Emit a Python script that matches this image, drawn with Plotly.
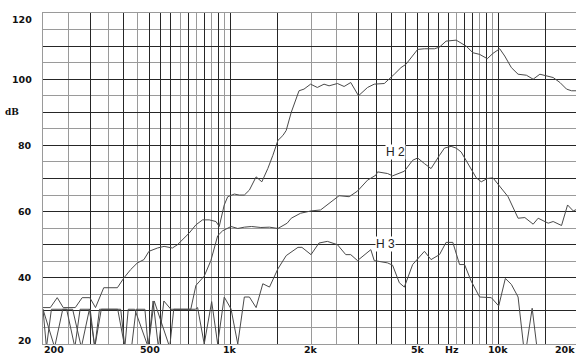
import numpy as np
import plotly.graph_objects as go

# ---- data (frequency in Hz, level in dB) ----
main_freq = [200, 213, 226, 238, 264, 280, 299, 314, 337, 379, 401, 425, 450, 476, 497, 535, 566,
             608, 635, 663, 702, 744, 788, 834, 884, 909, 949, 978, 1035, 1081, 1128, 1178, 1248,
             1311, 1380, 1441, 1505, 1571, 1616, 1688, 1804, 1883, 1993, 2112, 2237, 2336, 2510,
             2658, 2814, 3008, 3251, 3443, 3754, 4092, 4332, 4522, 4790, 5000, 5300, 5778, 6032,
             6384, 6960, 7268, 7586, 8038, 8516, 9094, 9550, 10120, 10566, 11186, 11850, 12728,
             13488, 14288, 15120, 16020, 16980, 17974, 18760, 19590, 20000]
main_db = [31, 31, 34, 31, 31, 34, 34, 31, 37, 37, 40, 42.5, 44.5, 45.5, 48, 49, 49.5,
           49, 50, 51.5, 53.5, 56, 57.5, 57.5, 57, 55.5, 62, 64.5, 65.3, 65, 65, 66.5, 70.5,
           69, 73, 77, 81.5, 83, 84.5, 90, 96.5, 97, 98.5, 97.5, 98.5, 98, 98.7,
           97.8, 99, 95, 97.5, 98.5, 98.7, 101.5, 103.5, 104.5, 107, 109, 109.2, 109.2, 109.7,
           111.5, 111.8, 111, 110, 108, 107.5, 106.2, 107.8, 109.2, 107, 103.5, 101.5, 101.2,
           100, 101.5, 101, 100.5, 99, 97, 96.5, 96.5, 95.5]

h2_freq = [200, 221, 237, 258, 278, 298, 312, 330, 380, 404, 416, 440, 494, 515, 539, 565, 600,
           712, 744, 799, 846, 897, 936, 1006, 1066, 1128, 1200, 1300, 1400, 1505, 1630, 1688,
           1828, 2000, 2172, 2368, 2546, 2776, 2982, 3251, 3492, 3544, 3862, 4032, 4460, 4790,
           5000, 5300, 5610, 6032, 6296, 6666, 6960, 7268, 7586, 8038, 8274, 8638, 9094, 9550,
           10120, 10872, 11850, 12560, 13488, 14080, 15350, 16020, 17214, 18130, 19040, 20000]
h2_db = [30.5, 19, 30.5, 30.5, 19, 30.5, 19, 30.5, 30.5, 19, 30.5, 30.5, 19, 33, 19, 33, 30.5,
         30.5, 37.7, 40.5, 45.2, 52.7, 54.2, 55.5, 54.9, 55.3, 55.5, 55.2, 55.3, 54.9, 56.5, 58,
         59.5, 60.2, 60.5, 62.8, 64.8, 64.5, 66.2, 69.5, 71, 72, 71.5, 70.8, 72.2, 75.5,
         76.2, 74.5, 73, 77, 79.2, 79.7, 79.2, 78, 75.5, 72, 70.2, 69, 70, 70.2,
         67.5, 64.5, 58, 58.2, 56.2, 58, 56.5, 57, 55.8, 62, 60.2, 61]

h3_freq = [200, 206, 215, 245, 263, 275, 300, 312, 325, 390, 404, 428, 445, 480, 494, 520, 594,
           615, 740, 755, 799, 852, 897, 949, 1006, 1066, 1128, 1178, 1248, 1322, 1400, 1505,
           1616, 1788, 1850, 2000, 2142, 2302, 2510, 2696, 2814, 2982, 3344, 3443, 3862, 4032,
           4272, 4460, 4790, 5300, 5610, 6032, 6384, 6764, 7168, 7482, 7920, 8516, 9414, 10034,
           10622, 11186, 11850, 12560, 13374, 14080, 20000]
h3_db = [30.5, 19, 30.5, 30.5, 19, 30.5, 30.5, 19, 30.5, 30.5, 19, 19, 30.5, 30.5, 19, 33, 19,
         30.5, 30.5, 31, 20, 32.8, 20, 34.2, 30.6, 20, 34.2, 34.2, 31, 38.2, 37.2, 42.7,
         46.7, 49.2, 49.2, 47, 50.5, 51, 50, 47, 47, 45.2, 48.5, 45.2, 44.5, 43.8,
         38.5, 37.2, 44, 48, 45.5, 47, 50.7, 50.7, 44, 44, 39, 34.2, 34, 31.5,
         39.8, 38, 34.2, 16, 30.8, 16, 12]

# grid / tick definitions
y_grid_dark = [30, 40, 50, 60, 70, 80, 90, 100, 110]
y_grid_light = [25, 35, 45, 55, 65, 75, 85, 95, 105, 115]
x_grid_dark = [300, 400, 500, 550, 600, 700, 800, 900, 1000, 1500, 3000, 3500, 4000, 4500,
               5000, 5500, 6000, 6500, 7500, 8000, 9000, 10000, 15000]
x_grid_light = [200, 250, 350, 450, 650, 750, 850, 950, 2000, 2500, 7000, 8500, 9500]

y_tick_vals = [20, 40, 60, 80, 100, 120]
y_tick_text = ["20", "40", "60", "80", "100", "120"]
x_tick_vals = [200, 500, 1000, 2000, 5000, 10000, 20000]
x_tick_text = ["200", "500", "1k", "2k", "5k", "10k", "20k"]

DARK = "#262626"
LIGHT = "#9a9a9a"
CURVE = "#4a4a4a"

fig = go.Figure()
for fx, fy in [(main_freq, main_db), (h2_freq, h2_db), (h3_freq, h3_db)]:
    fig.add_trace(go.Scatter(x=fx, y=fy, mode="lines",
                             line=dict(color=CURVE, width=1), hoverinfo="skip",
                             showlegend=False))

W, H = 576, 355
L, R, T, B = 43, 0, 13, 11
x0 = np.log10(200)
x1 = x0 + (W - L - R) / 268.0

fig.update_layout(
    width=W, height=H, margin=dict(l=L, r=R, t=T, b=B),
    paper_bgcolor="white", plot_bgcolor="white",
    xaxis=dict(type="log", range=[x0, x1], tickmode="array", tickvals=x_grid_dark,
               showticklabels=False, ticks="", showgrid=True, gridcolor=DARK, gridwidth=1,
               zeroline=False, showline=True, linecolor=LIGHT, linewidth=1, mirror=True,
               minor=dict(tickmode="array", tickvals=x_grid_light, showgrid=True,
                          gridcolor=LIGHT, gridwidth=1, ticks="")),
    yaxis=dict(range=[20, 120], tickmode="array", tickvals=y_grid_dark,
               showticklabels=False, ticks="", showgrid=True, gridcolor=DARK, gridwidth=1,
               zeroline=False, showline=True, linecolor=LIGHT, linewidth=1, mirror=False,
               minor=dict(tickmode="array", tickvals=y_grid_light, showgrid=True,
                          gridcolor=LIGHT, gridwidth=1, ticks="")),
)

tick_font = dict(family="DejaVu Sans", size=9.5, color="#111")
ann = []
for v, t in zip(y_tick_vals, y_tick_text):
    ys = -6 if v == 120 else (4 if v == 20 else 0)
    ann.append(dict(xref="paper", yref="y", x=0, y=v, xshift=-9, yshift=ys, text="<b>%s</b>" % t,
                    xanchor="right", yanchor="middle", showarrow=False, font=tick_font))
for v, t in zip(x_tick_vals, x_tick_text):
    if v == 200:
        xa = "left"
    elif v == 20000:
        xa = "right"
    else:
        xa = "center"
    xv = np.log10(v) if v != 20000 else x1
    ann.append(dict(xref="x", yref="paper", x=xv, y=0, yshift=-5.5, text="<b>%s</b>" % t,
                    xanchor=xa, yanchor="middle", showarrow=False, font=tick_font,
                    borderpad=0))
ann.append(dict(xref="x", yref="paper", x=np.log10(6700), y=0, yshift=-5.5, text="<b>Hz</b>",
                xanchor="center", yanchor="middle", showarrow=False, font=tick_font,
                borderpad=0))
ann.append(dict(xref="paper", yref="y", x=0, y=90, xshift=-31.5, text="<b>dB</b>",
                xanchor="center", yanchor="middle", showarrow=False,
                font=dict(family="DejaVu Serif", size=9, color="#111")))
lab_font = dict(family="Liberation Sans", size=12, color="#222")
ann.append(dict(xref="x", yref="y", x=np.log10(4116), y=77.9, text="H 2", showarrow=False,
                xanchor="center", yanchor="middle", bgcolor="white", borderpad=0, font=lab_font))
ann.append(dict(xref="x", yref="y", x=np.log10(3794), y=50.3, text="H 3", showarrow=False,
                xanchor="center", yanchor="middle", bgcolor="white", borderpad=0, font=lab_font))
fig.update_layout(annotations=ann)

fig.write_html("out.html")
